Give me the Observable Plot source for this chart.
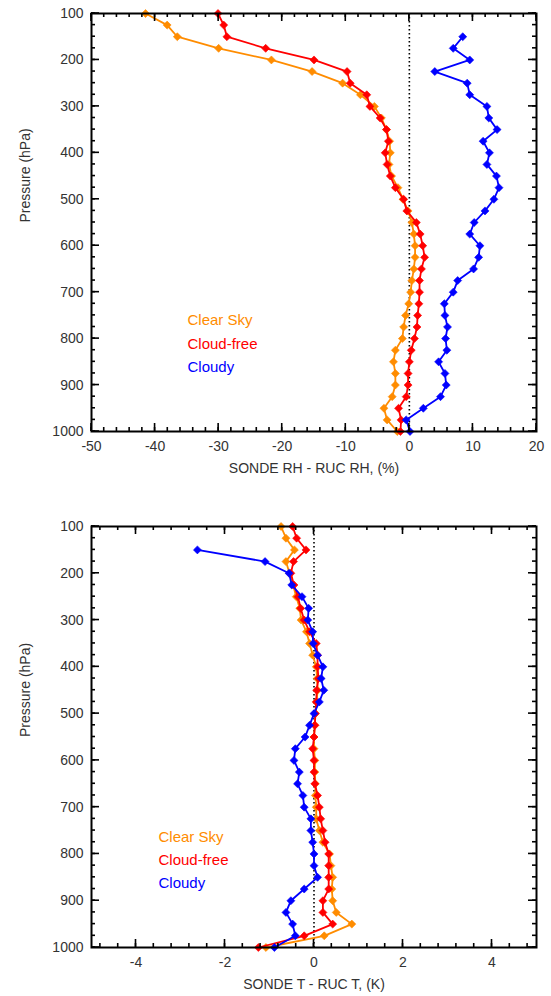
<!DOCTYPE html>
<html><head><meta charset="utf-8">
<script src="https://cdn.jsdelivr.net/npm/d3@7"></script>
<script src="https://cdn.jsdelivr.net/npm/@observablehq/plot@0.6"></script>
<style>
body{margin:0;background:#fff;}
#chart svg{display:block;}
</style>
</head><body><div id="chart"></div>
<script>
// Pressure levels (hPa)
const pressure = [100,125,150,175,200,225,250,275,300,325,350,375,400,425,450,475,500,525,550,575,600,625,650,675,700,725,750,775,800,825,850,875,900,925,950,975,1000];

// Panel 1: SONDE RH - RUC RH (%)
const rhClearSky = [-41.5,-38.1,-36.5,-30.0,-21.7,-15.3,-10.5,-7.7,-5.5,-4.4,-3.6,-3.1,-3.0,-3.2,-2.8,-1.8,-1.0,-0.2,0.4,0.7,0.9,0.9,0.7,0.4,0.2,-0.1,-0.6,-0.9,-1.1,-2.2,-2.5,-2.2,-2.2,-2.7,-4.0,-3.5,-1.9];
const rhCloudFree = [-30.1,-29.2,-28.7,-22.6,-15.0,-9.8,-9.3,-6.7,-6.2,-4.6,-3.6,-3.3,-3.8,-3.5,-3.0,-2.2,-0.9,-0.4,1.1,1.7,2.1,2.4,1.9,1.6,1.6,1.5,1.3,1.2,0.8,0.3,0.0,-0.2,-0.2,-0.5,-1.7,-1.3,-1.4];
const rhCloudy = [null,null,8.4,6.9,9.5,4.0,9.1,9.5,12.2,12.5,13.8,11.6,12.6,12.2,13.7,14.1,13.3,11.9,10.2,9.5,11.1,10.9,10.1,7.6,6.9,5.5,5.6,6.0,5.7,5.9,4.6,5.6,5.8,4.9,2.2,-0.5,0.1];

// Panel 2: SONDE T - RUC T (K)
const tClearSky = [-0.74,-0.63,-0.44,-0.63,-0.55,-0.47,-0.40,-0.32,-0.29,-0.17,-0.10,-0.03,0.05,0.07,0.08,0.06,0.03,0.02,0.0,0.0,0.02,0.02,0.03,0.03,0.05,0.05,0.12,0.20,0.35,0.38,0.42,0.40,0.42,0.50,0.85,0.23,-1.08];
const tCloudFree = [-0.48,-0.39,-0.18,-0.46,-0.52,-0.45,-0.36,-0.30,-0.22,-0.10,0.05,0.08,0.08,0.10,0.06,0.05,0.03,0.02,0.0,-0.03,0.0,0.0,0.02,0.08,0.12,0.15,0.20,0.25,0.33,0.33,0.33,0.33,0.20,0.20,0.42,-0.22,-1.25];
const tCloudy = [null,null,-2.62,-1.10,-0.56,-0.50,-0.27,-0.12,-0.14,-0.03,-0.02,0.08,0.20,0.16,0.22,0.12,0.0,-0.10,-0.20,-0.42,-0.45,-0.33,-0.37,-0.25,-0.22,-0.07,-0.07,-0.03,0.0,0.0,0.08,-0.22,-0.52,-0.63,-0.48,-0.42,-0.89];

const seriesNames = ["Clear Sky", "Cloud-free", "Cloudy"];
const seriesColors = ["#ff8c00", "#ff0000", "#0000ff"];

const rhTicks = [-50,-40,-30,-20,-10,0,10,20];
const tTicks = [-4,-2,0,2,4];
const pTicks = [100,200,300,400,500,600,700,800,900,1000];

const FONT = "'Liberation Sans', Arial, Helvetica, sans-serif";
const WIDTH = 551, ML = 91, MR = 15;

function rows(arrs) {
  const out = [];
  arrs.forEach((arr, k) => arr.forEach((v, i) => {
    if (v !== null) out.push({series: seriesNames[k], p: pressure[i], v});
  }));
  return out;
}

function panel({height, marginTop, marginBottom, xDomain, majorX, minorX, xLabel, data, legendDx, legendDy, legendGap}) {
  const seriesMarks = seriesNames.flatMap((name, k) => {
    const d = data.filter(r => r.series === name);
    return [
      Plot.line(d, {x: "v", y: "p", stroke: seriesColors[k], strokeWidth: 1.8}),
      Plot.dot(d, {x: "v", y: "p", fill: seriesColors[k], symbol: "diamond2", r: 3.6, stroke: seriesColors[k], strokeWidth: 0.6})
    ];
  });
  const svg = Plot.plot({
    width: WIDTH,
    height,
    marginTop,
    marginBottom,
    marginLeft: ML,
    marginRight: MR,
    style: {fontFamily: FONT, background: "#fff"},
    x: {domain: xDomain},
    y: {domain: [100, 1000], reverse: true},
    marks: [
      Plot.ruleX([0], {stroke: "#000", strokeWidth: 1.6, strokeDasharray: "1.6,2.4"}),
      ...seriesMarks,
      Plot.axisX({anchor: "bottom", ticks: majorX, tickSize: 0, tickPadding: 10, tickFormat: d => String(d), label: null, fontSize: 14, fill: "#333"}),
      Plot.axisY({anchor: "left", ticks: pTicks, tickSize: 0, tickPadding: 8, tickFormat: d => String(d), label: null, fontSize: 14, fill: "#333"}),
      Plot.text([xLabel], {frameAnchor: "bottom", dy: 37, fontSize: 14, fill: "#333", lineAnchor: "middle"}),
      Plot.text(["Pressure (hPa)"], {frameAnchor: "left", dx: -66, rotate: -90, fontSize: 14, fill: "#333"}),
      Plot.frame({stroke: "#000", strokeWidth: 2}),
      ...seriesNames.map((name, k) => Plot.text([name], {
        frameAnchor: "top-left", textAnchor: "start", lineAnchor: "middle",
        dx: legendDx, dy: legendDy + k * legendGap, fontSize: 15, fill: seriesColors[k]
      }))
    ]
  });

  // inward tick marks on all four frame sides, positioned with the plot's own scales
  const sx = svg.scale("x"), sy = svg.scale("y");
  const x0 = ML, x1 = WIDTH - MR, y0 = marginTop, y1 = height - marginBottom;
  const g = d3.select(svg).append("g").attr("stroke", "#000").attr("stroke-width", 1.6).attr("fill", "none");
  const addX = (ticks, size) => ticks.forEach(t => {
    const px = sx.apply(t);
    g.append("line").attr("x1", px).attr("x2", px).attr("y1", y1).attr("y2", y1 - size);
    g.append("line").attr("x1", px).attr("x2", px).attr("y1", y0).attr("y2", y0 + size);
  });
  const addY = (ticks, size) => ticks.forEach(t => {
    const py = sy.apply(t);
    g.append("line").attr("y1", py).attr("y2", py).attr("x1", x0).attr("x2", x0 + size);
    g.append("line").attr("y1", py).attr("y2", py).attr("x1", x1).attr("x2", x1 - size);
  });
  addX(minorX, 4); addX(majorX, 8);
  addY(d3.range(100, 1001, 25), 4); addY(pTicks, 8);
  return svg;
}

const rhPanel = panel({
  height: 490, marginTop: 13, marginBottom: 59,
  xDomain: [-50, 20], majorX: rhTicks, minorX: d3.range(-50, 20.1, 2),
  xLabel: "SONDE RH - RUC RH, (%)",
  data: rows([rhClearSky, rhCloudFree, rhCloudy]),
  legendDx: 96, legendDy: 307, legendGap: 23.5
});
const tPanel = panel({
  height: 506, marginTop: 36, marginBottom: 49,
  xDomain: [-5, 5], majorX: tTicks, minorX: d3.range(-4.8, 5, 0.4).map(v => Math.round(v * 10) / 10),
  xLabel: "SONDE T - RUC T, (K)",
  data: rows([tClearSky, tCloudFree, tCloudy]),
  legendDx: 67, legendDy: 311, legendGap: 23
});
document.getElementById("chart").append(rhPanel, tPanel);
</script>
</body></html>
